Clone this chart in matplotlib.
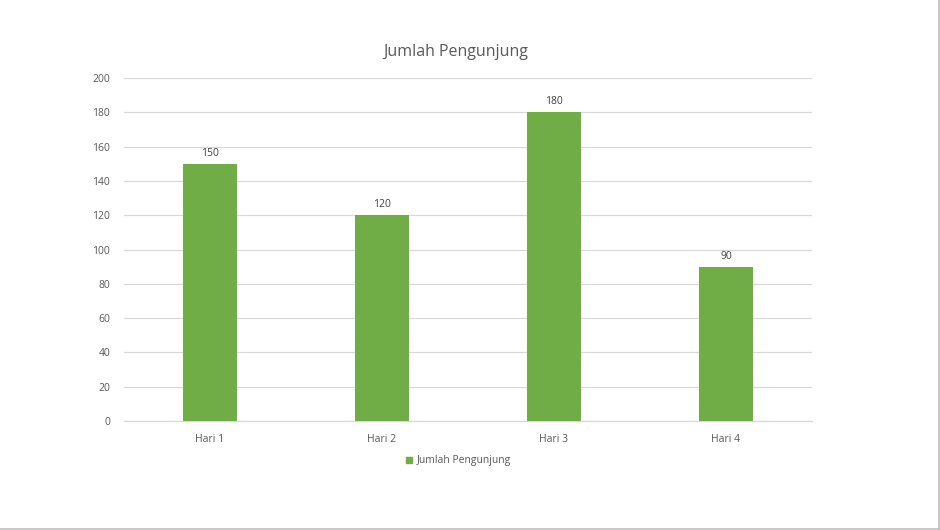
import matplotlib
matplotlib.use("Agg")
import matplotlib.pyplot as plt
from matplotlib.lines import Line2D

# Data:
categories = ["Hari 1", "Hari 2", "Hari 3", "Hari 4"]
values = [150, 120, 180, 90]
y_ticks = [0, 20, 40, 60, 80, 100, 120, 140, 160, 180, 200]
series_name = "Jumlah Pengunjung"

plt.rcParams['font.family'] = ['Open Sans', 'DejaVu Sans']
text_color = "#595959"
bar_color = "#70AD47"

# Setup figure:
fig = plt.figure(figsize=(9.4, 5.3), dpi=100)
ax = fig.add_axes([124/940, 1-421/530, 688/940, 343/530])

x = range(len(categories))
bars = ax.bar(x, values, width=0.31, color=bar_color, zorder=3)
for b, v in zip(bars, values):
    ax.text(b.get_x() + b.get_width()/2, v + 3, str(v), ha="center", va="bottom",
            fontsize=7.5, color="#404040")

ax.set_xlim(-0.5, 3.5)
ax.set_ylim(0, 200)
ax.set_yticks(y_ticks)
ax.set_xticks(list(x))
ax.set_xticklabels(categories)
ax.tick_params(axis='both', length=0, labelsize=7.5, colors=text_color)
ax.tick_params(axis='y', pad=10)
ax.tick_params(axis='x', pad=9)
ax.grid(axis='y', color="#D9D9D9", lw=0.9, zorder=0)
for s in ["top", "right", "left"]:
    ax.spines[s].set_visible(False)
ax.spines["bottom"].set_color("#D9D9D9")
ax.spines["bottom"].set_linewidth(0.9)

fig.text(456/940, 1-52/530, series_name, ha="center", va="center",
         fontsize=11.5, color=text_color)

handle = Line2D([], [], marker="s", ls="none", color=bar_color, markersize=5)
fig.legend([handle], [series_name], loc="center", bbox_to_anchor=(458/940, 1-461/530),
           frameon=False, fontsize=7.5, handletextpad=0.3, labelcolor=text_color,
           handlelength=0.8)

# border on right and bottom like the screenshot
fig.add_artist(Line2D([938.5/940, 938.5/940], [0, 1], color="#BFBFBF", lw=1.2))
fig.add_artist(Line2D([0, 1], [1.5/530, 1.5/530], color="#BFBFBF", lw=1.2))

plt.savefig("out.png", dpi=100)
